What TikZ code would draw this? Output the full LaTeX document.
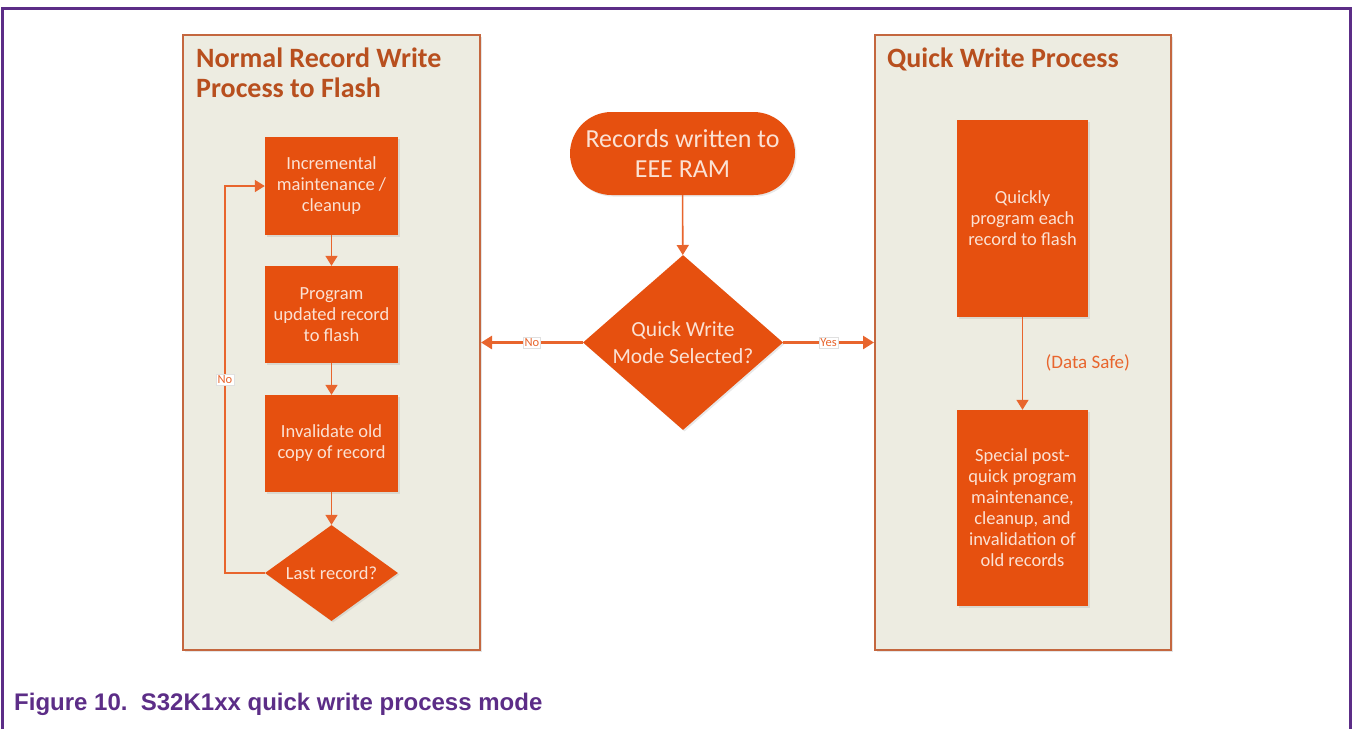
\documentclass[tikz,border=0pt]{standalone}
\usepackage{fontspec}
\setmainfont{Carlito}
\newfontfamily\capfont{Liberation Sans}
\usetikzlibrary{shapes.geometric,arrows.meta,shadows}
\definecolor{nxppurple}{HTML}{5C2D87}
\definecolor{panelfill}{HTML}{EDECE1}
\definecolor{paneldraw}{HTML}{C4673F}
\definecolor{boxfill}{HTML}{E6500F}
\definecolor{titlecol}{HTML}{B84F1E}
\definecolor{boxtext}{HTML}{FBE1D3}
\definecolor{arrowcol}{HTML}{E8652D}
\definecolor{lightarrow}{HTML}{E6AD92}
\tikzset{
  panel/.style={draw=paneldraw, fill=panelfill, line width=2pt, inner sep=0pt,
    drop shadow={opacity=0.2, shadow xshift=1.5pt, shadow yshift=-1.5pt}},
  paneltitle/.style={anchor=north west, inner sep=0pt, align=left, text=titlecol,
    font=\bfseries\fontsize{28}{30}\selectfont},
  stepbox/.style={fill=boxfill, inner sep=0pt, align=center, text=boxtext,
    font=\fontsize{18.5}{21}\selectfont,
    drop shadow={opacity=0.18, shadow xshift=1.5pt, shadow yshift=-1.5pt}},
  decbox/.style={diamond, fill=boxfill, inner sep=0pt, align=center, text=boxtext,
    drop shadow={opacity=0.18, shadow xshift=1.5pt, shadow yshift=-1.5pt}},
  arr/.style={draw=arrowcol, line width=1.6pt, -{Triangle[width=12pt,length=10pt]}},
  larr/.style={draw=lightarrow, line width=2.6pt, -{Triangle[width=13pt,length=11pt]}, arrowcol},
  lbl/.style={fill=white, draw=black!12, line width=0.6pt, inner sep=1.5pt, text=arrowcol,
    font=\fontsize{12.5}{13}\selectfont},
}
\begin{document}
\begin{tikzpicture}[x=1pt,y=-1pt]
\useasboundingbox (0,0) rectangle (1352,729);
\fill[white] (0,0) rectangle (1352,729);
% frame
\coordinate (fbl) at (2,729);
\coordinate (ftl) at (2,8);
\coordinate (ftr) at (1350,8);
\coordinate (fbr) at (1350,729);
\draw[nxppurple, line width=3pt] (fbl) -- (ftl) -- (ftr) -- (fbr);
% panels
\node[panel, minimum width=297pt, minimum height=615pt] (lp) at (331.5,342.5) {};
\node[panel, minimum width=296pt, minimum height=615pt] (rp) at (1023,342.5) {};
\node[paneltitle] (lt) at (196,48) {Normal Record Write\\Process to Flash};
\node[paneltitle] (rt) at (887,48) {Quick Write Process};
% left column
\node[stepbox, minimum width=133pt, minimum height=98pt] (b1) at (331.5,186) {Incremental\\maintenance /\\cleanup};
\node[stepbox, minimum width=133pt, minimum height=97pt] (b2) at (331.5,314.5) {Program\\updated record\\to flash};
\node[stepbox, minimum width=133pt, minimum height=97pt] (b3) at (331.5,443.5) {Invalidate old\\copy of record};
\node[decbox, shape aspect=1.385, minimum width=133pt, minimum height=96pt, font=\fontsize{18.5}{21}\selectfont] (ld) at (331.5,573) {Last record?};
\draw[arr] (b1) -- (b2);
\draw[arr] (b2) -- (b3);
\draw[arr] (b3) -- (ld);
\coordinate (loopc) at (225,573);
\draw[arr] (ld.west) -- (loopc) |- (b1.west);
\node[lbl] (nol) at (225,380) {No};
% centre
\node[stepbox, rounded corners=41.5pt, minimum width=225pt, minimum height=83pt,
  font=\fontsize{26}{30}\selectfont] (rec) at (682.5,153.5) {Records written to\\EEE RAM};
\node[decbox, shape aspect=1.14, minimum width=200pt, minimum height=175pt, font=\fontsize{21.5}{27}\selectfont] (qd) at (683,342.5) {Quick Write\\Mode Selected?};
\draw[arr] (rec) -- (qd);
\draw[larr] (qd.west) -- node[lbl] (nom) {No} (lp.east);
\draw[larr] (qd.east) -- node[lbl] (yes) {Yes} (rp.west);
% right column
\node[stepbox, minimum width=131pt, minimum height=197pt] (qa) at (1022.5,218.5) {Quickly\\program each\\record to flash};
\node[stepbox, minimum width=131pt, minimum height=196pt] (qb) at (1022.5,508) {Special post-\\quick program\\maintenance,\\cleanup, and\\invalidation of\\old records};
\draw[arr] (qa) -- node[right, xshift=19pt, yshift=1pt, text=arrowcol, font=\fontsize{19}{20}\selectfont] (ds) {(Data Safe)} (qb);
% caption
\node[anchor=base west, inner sep=0pt, text=nxppurple, font=\capfont\bfseries\fontsize{24}{28}\selectfont] (cap) at (14,710) {Figure 10.\ \ S32K1xx quick write process mode};
\end{tikzpicture}
\end{document}
